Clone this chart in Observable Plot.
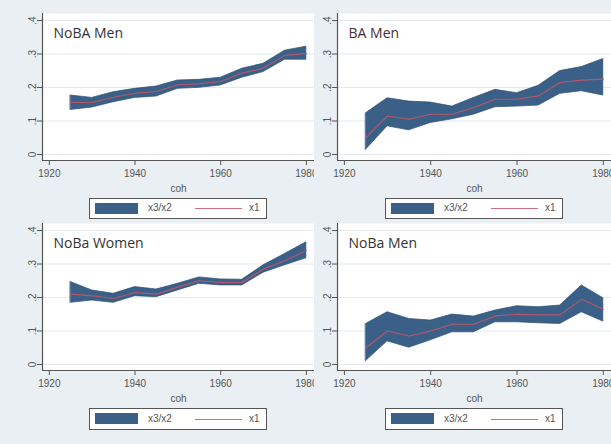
<!DOCTYPE html>
<html>
<head>
<meta charset="utf-8">
<script src="https://cdn.jsdelivr.net/npm/d3@7"></script>
<script src="https://cdn.jsdelivr.net/npm/@observablehq/plot@0.6"></script>
<style>
html, body { margin: 0; padding: 0; background: #e9eff3; }
#chart { position: relative; width: 611px; height: 444px; overflow: hidden; background: #e9eff3; font-family: "Liberation Sans", Arial, sans-serif; }
.panel { position: absolute; }
.panel svg { overflow: hidden; display: block; }
.legend { position: absolute; box-sizing: border-box; border: 1.5px solid #555; background: #fff; font-size: 10px; color: #555; }
.legend .sw { position: absolute; left: 5px; width: 43px; height: 11px; background: #3a6088; }
.legend .t1 { position: absolute; left: 58px; }
.legend .ln { position: absolute; left: 105px; width: 47px; height: 0; border-top: 1.3px solid #c9707f; }
.legend .t2 { position: absolute; left: 159px; }
</style>
</head>
<body>
<div id="chart"></div>
<script>
// ---- data ----
const cohorts = [1925, 1930, 1935, 1940, 1945, 1950, 1955, 1960, 1965, 1970, 1975, 1980];
const xTicks = [1920, 1940, 1960, 1980];
const yTicks = [0, 0.1, 0.2, 0.3, 0.4];
const yTickLabels = ["0", ".1", ".2", ".3", ".4"];
const titles = ["NoBA Men", "BA Men", "NoBa Women", "NoBa Men"];
const legendLabels = ["x3/x2", "x1"];

// NoBA Men (top-left)
const nobaMenLo  = [0.133, 0.140, 0.156, 0.169, 0.173, 0.196, 0.199, 0.206, 0.229, 0.246, 0.283, 0.283];
const nobaMenHi  = [0.176, 0.169, 0.186, 0.196, 0.203, 0.221, 0.223, 0.229, 0.256, 0.271, 0.310, 0.322];
const nobaMenX1  = [0.155, 0.155, 0.171, 0.183, 0.188, 0.208, 0.211, 0.218, 0.243, 0.258, 0.296, 0.302];
// BA Men (top-right)
const baMenLo    = [0.014, 0.084, 0.072, 0.094, 0.105, 0.119, 0.141, 0.143, 0.146, 0.181, 0.189, 0.176];
const baMenHi    = [0.123, 0.168, 0.158, 0.155, 0.143, 0.169, 0.193, 0.183, 0.205, 0.249, 0.261, 0.285];
const baMenX1    = [0.050, 0.115, 0.105, 0.120, 0.120, 0.140, 0.165, 0.165, 0.175, 0.215, 0.222, 0.225];
// NoBa Women (bottom-left)
const nobaWomLo  = [0.184, 0.191, 0.184, 0.204, 0.201, 0.221, 0.241, 0.236, 0.236, 0.274, 0.296, 0.317];
const nobaWomHi  = [0.246, 0.221, 0.211, 0.231, 0.224, 0.241, 0.260, 0.254, 0.253, 0.296, 0.330, 0.365];
const nobaWomX1  = [0.210, 0.205, 0.197, 0.215, 0.210, 0.231, 0.250, 0.245, 0.245, 0.285, 0.310, 0.340];
// NoBa Men (bottom-right)
const nobaMen2Lo = [0.010, 0.069, 0.050, 0.072, 0.096, 0.096, 0.126, 0.126, 0.123, 0.121, 0.156, 0.128];
const nobaMen2Hi = [0.121, 0.156, 0.136, 0.131, 0.149, 0.143, 0.161, 0.174, 0.171, 0.176, 0.236, 0.198];
const nobaMen2X1 = [0.050, 0.100, 0.085, 0.100, 0.120, 0.120, 0.145, 0.150, 0.148, 0.148, 0.195, 0.165];

// ---- layout / style ----
const xDomain = [1918.4, 1981.9];
const yDomain = [-0.018, 0.421];
const bandColor = "#3a6088";
const bandEdge = "#2c4e72";
const lineColor = "#b8566a";
const font = "'Liberation Sans', Arial, sans-serif";

const panels = [
  {title: titles[0], lo: nobaMenLo, hi: nobaMenHi, x1: nobaMenX1, left: 0, top: 0, width: 314, marginLeft: 42, legendLeft: 89, legendTop: 198, legendH: 21, titleColor: "#333"},
  {title: titles[1], lo: baMenLo, hi: baMenHi, x1: baMenX1, left: 314, top: 0, width: 297, marginLeft: 23, legendLeft: 385, legendTop: 198, legendH: 21, titleColor: "#4a2e2e"},
  {title: titles[2], lo: nobaWomLo, hi: nobaWomHi, x1: nobaWomX1, left: 0, top: 210, width: 314, marginLeft: 42, legendLeft: 89, legendTop: 408, legendH: 22, titleColor: "#333"},
  {title: titles[3], lo: nobaMen2Lo, hi: nobaMen2Hi, x1: nobaMen2X1, left: 314, top: 210, width: 297, marginLeft: 23, legendLeft: 385, legendTop: 408, legendH: 22, titleColor: "#333"}
];

const chart = document.getElementById("chart");

for (const p of panels) {
  const data = cohorts.map((c, i) => ({coh: c, lo: p.lo[i], hi: p.hi[i], x1: p.x1[i]}));
  const svg = Plot.plot({
    width: p.width,
    height: 196,
    marginLeft: p.marginLeft,
    marginRight: 0,
    marginTop: 13,
    marginBottom: 36,
    style: {background: "transparent", fontFamily: font, fontSize: "10px", color: "#555", overflow: "hidden"},
    x: {domain: xDomain},
    y: {domain: yDomain},
    marks: [
      Plot.frame({fill: "white", stroke: null}),
      Plot.gridY(yTicks, {stroke: "#e3e9ee", strokeOpacity: 1}),
      Plot.areaY(data, {x: "coh", y1: "lo", y2: "hi", fill: bandColor, stroke: bandEdge, strokeWidth: 0.7}),
      Plot.lineY(data, {x: "coh", y: "x1", stroke: lineColor, strokeWidth: 1.1}),
      Plot.ruleX([xDomain[0]], {stroke: "#555", strokeWidth: 1.2}),
      Plot.ruleY([yDomain[0]], {stroke: "#555", strokeWidth: 1.2}),
      Plot.axisY(yTicks, {tickSize: 5, tickPadding: 2, tickRotate: -90, stroke: "#555",
        tickFormat: d => yTickLabels[yTicks.indexOf(d)], label: null}),
      Plot.axisX(xTicks, {tickSize: 5, tickPadding: 4, stroke: "#555", tickFormat: d => String(d),
        label: "coh", labelAnchor: "center", labelArrow: "none", labelOffset: 31}),
      Plot.text([p.title], {frameAnchor: "top-left", dx: 11, dy: 15, fontSize: 14, fill: p.titleColor,
        fontFamily: "'Open Sans', 'Liberation Sans', Arial, sans-serif", textAnchor: "start"})
    ]
  });
  const wrap = document.createElement("div");
  wrap.className = "panel";
  wrap.style.left = p.left + "px";
  wrap.style.top = p.top + "px";
  wrap.appendChild(svg);
  chart.appendChild(wrap);

  const lg = document.createElement("div");
  lg.className = "legend";
  lg.style.left = p.legendLeft + "px";
  lg.style.top = p.legendTop + "px";
  lg.style.width = "178px";
  lg.style.height = p.legendH + "px";
  const mid = (p.legendH - 3) / 2;
  lg.innerHTML =
    `<div class="sw" style="top:${mid - 5.5}px"></div>` +
    `<div class="t1" style="top:${mid - 6}px">${legendLabels[0]}</div>` +
    `<div class="ln" style="top:${mid}px"></div>` +
    `<div class="t2" style="top:${mid - 6}px">${legendLabels[1]}</div>`;
  chart.appendChild(lg);
}
</script>
</body>
</html>
